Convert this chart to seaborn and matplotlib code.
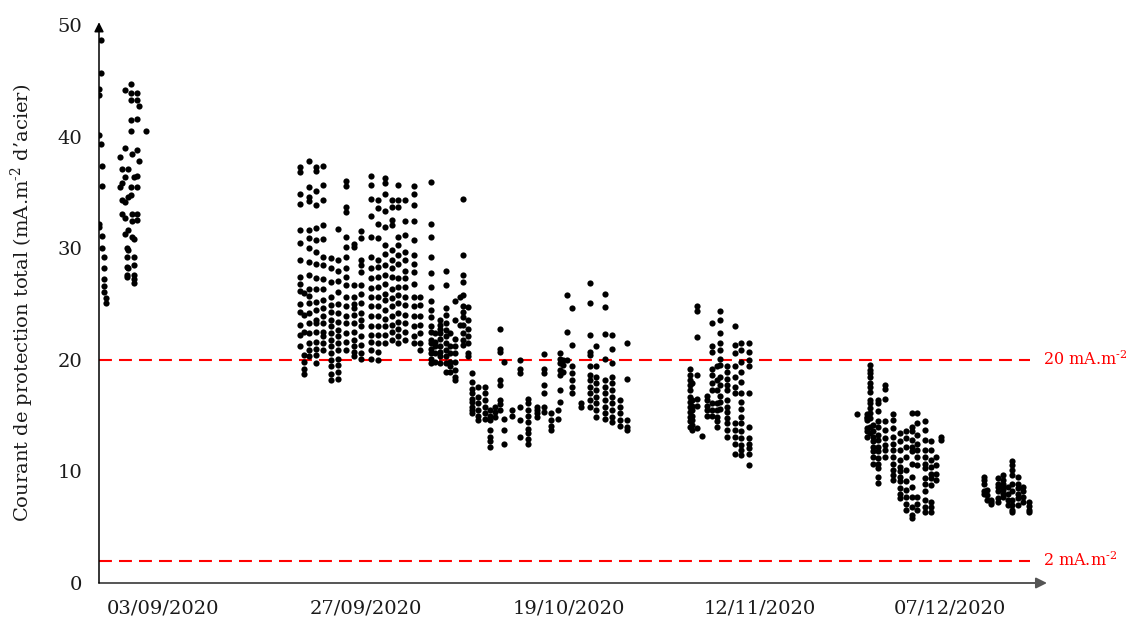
import matplotlib
matplotlib.use("Agg")
import matplotlib.pyplot as plt
import pandas as pd
import seaborn as sns

# Readings of the total protection current (mA per m² of steel), grouped by
# campaign. Each entry is (position along the measurement axis, [values]).
campagne_1 = [
    (99, [44.3, 43.7, 40.1, 32.2, 31.9]),
    (101, [48.7, 45.7, 39.3]),
    (102, [37.4, 35.6, 31.1, 30.0]),
    (104, [29.2, 28.2, 27.2, 26.6, 26.1]),
    (106, [25.5, 25.1]),
]
campagne_2 = [
    (120, [38.2, 35.5]),
    (122, [37.1, 35.8, 34.3, 33.1]),
    (125, [44.2, 39.0, 36.4, 34.1, 32.7, 31.3]),
    (127, [30.0, 29.2, 28.3, 27.6, 27.4]),
    (128, [37.1, 34.6, 31.6, 29.8, 28.2]),
    (131, [44.7, 43.9, 43.3, 41.5, 40.5, 35.5, 34.8]),
    (132, [38.4, 33.1, 32.4, 31.0]),
    (134, [36.4, 30.8, 29.2, 28.5, 27.6, 27.2, 26.9]),
    (137, [43.9, 43.3, 41.6, 38.8, 36.5, 35.5, 33.1, 32.5]),
    (139, [42.7, 37.8]),
    (146, [40.5]),
]
campagne_3 = [
    (300, [37.3, 36.8, 34.9, 34.0, 31.6, 30.5, 28.9, 27.4, 26.8, 26.2, 25.0, 24.3, 23.1, 22.2, 21.2]),
    (304, [26.0, 24.0, 22.5, 20.4, 19.8, 19.2, 18.7]),
    (309, [37.8, 35.5, 34.6, 34.2, 31.6, 30.9, 30.0, 28.8, 27.6, 26.3, 25.7, 25.1, 24.2, 23.3, 22.4, 21.5, 20.9, 20.3]),
    (316, [37.3, 36.9, 35.1, 33.9, 31.8, 30.7, 29.7, 28.6, 27.3, 26.3, 25.2, 24.5, 23.6, 23.3, 22.5, 21.6, 21.0, 20.4, 19.7]),
    (323, [37.4, 35.7, 34.3, 32.1, 30.8, 29.2, 28.5, 27.2, 26.3, 25.4, 24.6, 23.9, 23.3, 22.5, 22.1, 21.5, 20.9]),
    (331, [29.1, 28.2, 27.0, 25.6, 24.9, 24.3, 23.6, 23.0, 22.4, 21.8, 21.2, 20.6, 20.0, 19.4, 18.7, 18.2]),
    (338, [31.7, 28.9, 28.0, 27.1, 26.1, 25.0, 24.2, 23.4, 22.7, 22.1, 21.5, 20.9, 20.1, 19.5, 18.9, 18.3]),
    (346, [36.0, 35.6, 33.7, 33.2, 31.0, 30.1, 29.2, 28.2, 27.4, 26.7, 25.6, 24.8, 23.9, 23.3, 22.4, 21.6, 20.9]),
    (354, [30.4, 30.1, 26.7, 25.6, 25.0, 24.6, 24.0, 23.3, 22.5, 21.8, 21.2, 20.7, 20.3]),
    (361, [31.5, 30.9, 28.9, 28.5, 27.9, 26.7, 25.9, 25.1, 24.2, 23.6, 23.0, 22.1, 21.3, 20.6, 20.1]),
    (371, [36.5, 35.7, 34.4, 32.9, 31.0, 29.2, 28.2, 27.3, 26.4, 25.6, 24.8, 23.9, 23.0, 22.2, 21.6, 20.9, 20.1]),
    (378, [34.3, 33.6, 32.2, 30.9, 28.9, 28.3, 27.4, 26.5, 25.6, 24.8, 23.9, 23.0, 22.2, 21.5, 20.7, 20.0]),
    (385, [36.3, 35.8, 34.9, 33.3, 31.9, 30.3, 29.5, 28.5, 27.6, 26.8, 25.9, 25.4, 24.5, 23.7, 23.0, 22.2, 21.5]),
    (392, [34.3, 33.7, 32.5, 32.1, 29.8, 28.9, 28.2, 27.4, 26.3, 25.5, 24.8, 23.9, 23.1, 22.5, 21.8]),
    (398, [35.7, 34.3, 33.7, 31.0, 30.3, 29.4, 28.6, 27.3, 26.5, 25.8, 25.1, 24.2, 23.4, 22.8, 22.1, 21.5]),
    (405, [34.3, 32.4, 31.2, 29.7, 28.9, 28.0, 27.3, 26.5, 25.6, 24.9, 24.0, 23.3, 22.5, 21.8]),
    (414, [35.6, 34.9, 33.9, 32.4, 30.7, 29.4, 28.6, 27.9, 26.8, 25.6, 24.8, 23.9, 23.0, 22.1, 21.5]),
    (420, [25.6, 24.9, 23.9, 23.1, 22.4, 21.5, 20.9]),
    (431, [35.9, 32.2, 31.0, 29.2, 27.8, 26.5, 25.3, 24.5, 23.8, 23.0, 22.5, 21.8, 21.5, 21.0, 20.6, 20.1, 19.7]),
]
campagne_4 = [
    (435, [22.4, 21.6, 21.2, 20.6, 19.8]),
    (440, [23.6, 23.1, 22.8, 22.4, 21.9, 21.2, 20.7, 20.3, 19.7]),
    (446, [28.0, 26.7, 24.6, 24.0, 23.3, 22.7, 22.1, 21.5, 20.9, 20.3, 19.7, 18.9]),
    (450, [22.4, 21.2, 20.6, 19.8, 19.4, 18.9]),
    (455, [25.3, 23.6, 21.9, 21.2, 20.6, 19.8, 19.1, 18.5, 18.2]),
    (460, [25.6, 23.1]),
    (463, [34.4, 29.4, 27.6, 27.0, 25.8, 24.8, 24.3, 23.8, 23.1, 22.4, 21.8, 21.3]),
    (468, [24.7, 23.6, 22.8, 22.1, 21.5, 20.6, 20.3]),
    (472, [18.8, 18.0, 17.4, 17.0, 16.5, 16.2, 15.8, 15.5, 15.2]),
    (478, [17.6, 16.7, 16.1, 15.5, 15.0, 14.6]),
    (485, [17.6, 17.0, 16.4, 15.8, 15.2, 14.7]),
    (490, [15.5, 15.0, 14.6, 13.7, 13.1, 12.7, 12.2]),
    (495, [15.8, 15.3, 14.9]),
    (500, [22.8, 21.0, 20.7, 18.2, 17.7, 16.4, 16.0, 15.5]),
    (504, [19.8, 14.7, 13.7, 12.5]),
]
campagne_5 = [
    (512, [15.5, 15.0]),
    (520, [20.0, 19.2, 18.8, 15.8, 14.6, 13.1]),
    (528, [16.5, 16.1, 15.5, 15.0, 14.4, 13.8, 13.4, 12.9, 12.5]),
    (537, [15.8, 15.5, 15.2, 14.9]),
    (544, [20.5, 19.2, 18.8, 17.7, 17.0, 15.8, 15.3]),
    (551, [15.2, 14.6, 14.1, 13.7]),
    (558, [15.5, 14.7]),
    (560, [20.6, 20.1, 19.7, 19.1, 18.6, 17.3, 16.2]),
    (563, [20.0, 19.5, 18.9]),
    (567, [25.8, 22.5, 20.0]),
    (572, [24.6, 21.3, 19.4, 18.8, 18.2, 17.6, 17.0]),
    (581, [16.1, 15.8]),
    (590, [26.9, 25.1, 22.2, 20.7, 20.4, 19.4, 18.6, 18.2, 17.6, 17.0, 16.4, 15.8]),
    (596, [21.2, 19.4, 18.5, 17.9, 17.3, 16.7, 16.1, 15.5, 14.9]),
    (605, [25.9, 24.7, 22.3, 20.1, 18.2, 17.6, 17.0, 16.4, 15.8, 15.2, 14.7]),
    (612, [22.2, 21.0, 19.7, 18.5, 17.9, 17.3, 16.7, 16.1, 15.5, 14.9, 14.4]),
    (620, [16.4, 15.8, 15.2, 14.6, 14.1]),
    (627, [21.5, 18.3, 14.6, 14.0, 13.7]),
]
campagne_6 = [
    (690, [19.2, 18.6, 18.2, 17.7, 17.3, 16.7, 16.2, 15.8, 15.3, 14.9, 14.5, 14.0]),
    (692, [17.9, 16.4, 15.9, 15.5, 15.0, 14.6, 14.2, 13.7]),
    (697, [24.8, 24.4, 22.0, 18.6, 16.5, 15.9, 13.9]),
    (702, [13.2]),
    (707, [16.8, 16.4, 15.9, 15.5, 15.0]),
    (712, [23.3, 21.2, 20.7, 19.2, 18.6, 17.9, 17.3, 16.1, 15.5, 15.0]),
    (717, [19.4, 18.2, 17.3, 16.1, 15.5, 14.9, 14.5, 14.0]),
    (720, [24.4, 23.6, 22.4, 21.5, 20.9, 20.1, 19.5, 18.5, 17.7, 16.8, 16.2, 15.6]),
    (727, [19.4, 18.9, 18.3, 17.7, 17.3, 16.4, 15.8, 15.3, 14.8, 14.3, 13.7, 13.1]),
    (735, [23.0, 21.3, 20.6, 19.4, 18.5, 17.6, 17.0, 14.3, 13.7, 13.1, 12.5, 11.6]),
    (741, [21.5, 20.9, 19.8, 18.9, 18.0, 17.0, 16.2, 15.6, 14.9, 14.3, 13.6, 13.0, 12.4, 11.9, 11.5]),
    (749, [21.5, 20.7, 20.0, 19.4, 17.0, 14.0, 13.0, 12.5, 12.1, 11.6, 10.6]),
]
campagne_7 = [
    (857, [15.1]),
    (867, [15.1, 14.9, 14.8, 14.6, 13.9, 13.6, 13.1]),
    (870, [19.5, 19.1, 18.8, 18.5, 17.9, 17.6, 17.1, 16.4, 16.1, 15.7, 15.2, 14.8, 14.0, 13.4]),
    (873, [14.2, 13.6, 13.1, 12.7, 12.2, 11.8, 11.3, 10.7]),
    (878, [16.4, 16.1, 15.4, 14.5, 14.0, 13.3, 12.8, 12.2, 11.8, 11.2, 10.7, 10.3, 9.5, 9.0]),
    (885, [17.7, 17.4, 16.5, 14.5, 13.7, 13.0, 12.4, 11.9, 11.3]),
    (893, [15.1, 14.6, 13.9, 13.1, 12.5, 11.9, 11.3, 10.7, 10.1, 9.7, 9.2]),
    (900, [13.4, 12.7, 11.9, 11.0, 10.4, 10.0, 9.5, 9.1, 8.5, 8.0, 7.6]),
    (906, [13.6, 13.0, 12.2, 11.3, 10.1, 9.1, 8.3, 7.7, 7.1, 6.5]),
    (912, [15.2, 14.0, 13.6, 12.8, 12.2, 11.8, 10.7, 9.5, 8.6, 7.7, 6.8, 6.1, 5.8]),
    (917, [15.2, 14.3, 13.3, 12.5, 11.9, 11.3, 10.6, 7.7, 7.1, 6.5]),
    (925, [14.5, 13.7, 12.8, 11.9, 11.3, 10.7, 10.3, 9.4, 8.9, 8.2, 7.4, 6.8, 6.4]),
    (931, [12.7, 11.9, 11.0, 10.4, 9.8, 9.4, 8.8, 7.3, 6.8, 6.4]),
    (936, [11.3, 10.6, 9.8, 9.2]),
    (941, [13.1, 12.8]),
]
campagne_8 = [
    (984, [9.5, 9.2, 8.9, 8.2, 8.0]),
    (987, [8.3, 7.9, 7.4]),
    (991, [7.4, 7.1, 7.3]),
    (998, [9.4, 8.9, 8.6, 8.2, 7.6, 7.3]),
    (1003, [9.7, 9.2, 8.9, 8.6, 8.3, 8.0, 7.7]),
    (1008, [8.6, 8.0, 7.4, 7.0]),
    (1012, [10.9, 10.6, 10.1, 9.7, 8.9, 8.2, 7.4, 7.0, 6.5, 6.4]),
    (1018, [9.5, 8.9, 8.5, 8.0, 7.6, 7.0]),
    (1023, [8.6, 8.2, 7.7, 7.3]),
    (1029, [7.3, 6.9, 6.5, 6.4]),
]

# Date labels shown under the axis and where they sit along it
date_positions = [163, 366, 569, 760, 950]
date_labels = ["03/09/2020", "27/09/2020", "19/10/2020", "12/11/2020", "07/12/2020"]

# Reference current densities
seuils = [20, 2]
seuil_labels = [r"20 mA.m$^{\text{-2}}$", r"2 mA.m$^{\text{-2}}$"]

campagnes = [campagne_1, campagne_2, campagne_3, campagne_4,
             campagne_5, campagne_6, campagne_7, campagne_8]
rows = []
for i, camp in enumerate(campagnes, start=1):
    for pos, values in camp:
        for v in values:
            rows.append({"releve": pos, "courant": v, "campagne": i})
df = pd.DataFrame(rows)

sns.set_theme(style="white")
plt.rcParams["font.family"] = ["DejaVu Serif"]
plt.rcParams["mathtext.fontset"] = "dejavuserif"

W, H = 1133, 623
fig = plt.figure(figsize=(W / 100, H / 100), dpi=100)
x0, x1, y0, y1 = 99, 1047, 583, 25
ax = fig.add_axes([x0 / W, (H - y0) / H, (x1 - x0) / W, (y0 - y1) / H])

sns.scatterplot(data=df, x="releve", y="courant", color="black", s=20,
                linewidth=0, ax=ax, legend=False, zorder=3)

ax.set_xlim(x0, x1)
ax.set_ylim(0, 50)

for s in ax.spines.values():
    s.set_visible(False)

# Axis lines with arrow heads
ax.annotate("", xy=(1, 0), xytext=(0, 0), xycoords="axes fraction",
            arrowprops=dict(arrowstyle="-|>", color="#555555", lw=1.4,
                            mutation_scale=16, shrinkA=0, shrinkB=0), zorder=4)
ax.annotate("", xy=(0, 1.005), xytext=(0, 0), xycoords="axes fraction",
            arrowprops=dict(arrowstyle="-|>", color="black", lw=1.1,
                            mutation_scale=14, shrinkA=0, shrinkB=0), zorder=4)

# Threshold lines
for val, lab in zip(seuils, seuil_labels):
    ax.hlines(val, x0, 1030, colors="#ff0000", linewidth=1.5,
              linestyles=(0, (6.2, 3.4)), zorder=2)
    ax.text(1043, val, lab, color="#ff0000", fontsize=11.5,
            va="center", ha="left", clip_on=False)

ax.set_xticks(date_positions)
ax.set_xticklabels(date_labels)
ax.set_yticks([0, 10, 20, 30, 40, 50])
ax.tick_params(axis="both", length=0, labelsize=14, colors="#1a1a1a")
ax.tick_params(axis="x", pad=12)
ax.tick_params(axis="y", pad=12)
ax.set_xlabel("")
ax.set_ylabel("")

fig.text(22 / W, (H - 303) / H,
         r"Courant de protection total (mA.m$^{\text{-2}}$ d’acier)",
         rotation=90, ha="center", va="center", fontsize=14, color="#1a1a1a")

fig.savefig("out.png", dpi=100)
